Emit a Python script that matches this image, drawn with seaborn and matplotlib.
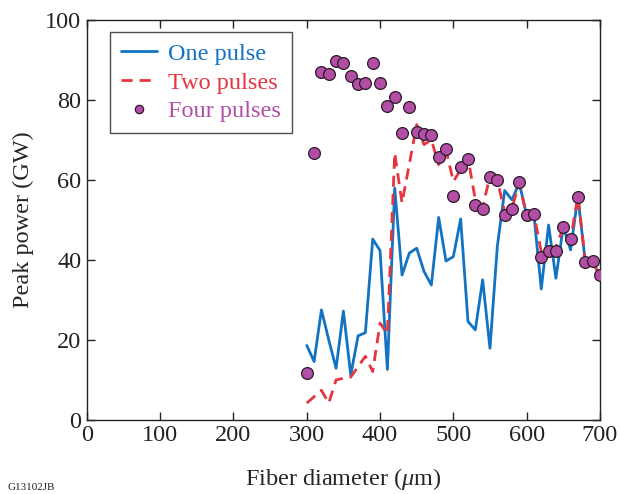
import matplotlib
matplotlib.use('Agg')
import matplotlib.pyplot as plt
from matplotlib.lines import Line2D
import seaborn as sns
import pandas as pd

# Fiber diameters (um), 300..700 in 10 um steps
diameter = [300, 310, 320, 330, 340, 350, 360, 370, 380, 390,
            400, 410, 420, 430, 440, 450, 460, 470, 480, 490,
            500, 510, 520, 530, 540, 550, 560, 570, 580, 590,
            600, 610, 620, 630, 640, 650, 660, 670, 680, 690, 700]

one_pulse = [18.6, 14.6, 27.5, 20.0, 12.9, 27.2, 11.2, 21.0, 21.8, 45.2,
             42.3, 12.6, 57.9, 36.2, 41.7, 42.9, 37.1, 33.7, 50.6, 39.7,
             40.8, 50.2, 24.6, 22.5, 35.0, 17.9, 43.3, 57.3, 55.0, 59.2,
             51.2, 51.2, 32.7, 48.7, 35.4, 48.3, 42.5, 55.8, 39.6, 39.6, 36.0]

two_pulses = [4.2, 5.8, 7.4, 4.2, 10.0, 10.4, 10.7, 13.3, 15.9, 12.1,
              24.2, 21.5, 66.7, 54.2, 64.0, 73.8, 68.8, 70.0, 63.8, 67.5,
              59.6, 62.5, 65.5, 55.0, 53.3, 60.8, 60.0, 52.0, 53.0, 59.2,
              51.2, 51.5, 42.0, 42.5, 43.3, 48.0, 45.0, 56.0, 40.0, 39.6, 36.0]

four_pulses = [11.6, 66.8, 87.0, 86.4, 89.8, 89.3, 86.0, 84.0, 84.2, 89.2,
               84.2, 78.4, 80.6, 71.7, 78.2, 72.0, 71.5, 71.3, 65.7, 67.7,
               56.0, 63.2, 65.2, 53.7, 52.8, 60.7, 60.0, 51.2, 52.8, 59.5,
               51.2, 51.4, 40.7, 42.2, 42.2, 48.1, 45.2, 55.7, 39.4, 39.7, 36.2]

labels = ['One pulse', 'Two pulses', 'Four pulses']
blue = '#1273c2'
red = '#e7353f'
purple = '#b24ea3'

df = pd.DataFrame({'diameter': diameter, 'one': one_pulse,
                   'two': two_pulses, 'four': four_pulses})

sns.set_style('ticks')
plt.rcParams['font.family'] = ['Liberation Serif', 'DejaVu Serif']
plt.rcParams['mathtext.fontset'] = 'custom'
plt.rcParams['mathtext.it'] = 'Liberation Serif:italic'
plt.rcParams['mathtext.rm'] = 'Liberation Serif'

fig = plt.figure(figsize=(6.21, 4.94), dpi=100)
ax = fig.add_axes([0.140, 0.150, 0.826, 0.810])

sns.lineplot(data=df, x='diameter', y='one', ax=ax, color=blue, linewidth=2.0)
sns.lineplot(data=df, x='diameter', y='two', ax=ax, color=red, linewidth=2.0,
             dashes=False)
ax.lines[-1].set_dashes([4, 2.5])
sns.scatterplot(data=df, x='diameter', y='four', ax=ax, color=purple, s=72,
                edgecolor='#2a1a2a', linewidth=0.9, zorder=5)

ax.set_xlim(0, 700)
ax.set_ylim(0, 100)
ax.set_xticks(range(0, 701, 100))
ax.set_yticks(range(0, 101, 20))
ax.tick_params(direction='in', length=6, width=1, top=True, right=True,
               labelsize=17.5, colors='#222222', pad=4)
for s in ax.spines.values():
    s.set_linewidth(1.0)
    s.set_color('#222222')
    s.set_visible(True)

ax.set_xlabel(r'Fiber diameter ($\mathit{\mu}$m)', fontsize=17.5, labelpad=14)
ax.set_ylabel('Peak power (GW)', fontsize=17.5, labelpad=8)

handles = [Line2D([], [], color=blue, linewidth=2.0),
           Line2D([], [], color=red, linewidth=2.0, dashes=[4, 2.5]),
           Line2D([], [], color=purple, marker='o', linestyle='none',
                  markersize=6, markeredgecolor='#2a1a2a', markeredgewidth=0.9)]
leg = ax.legend(handles, labels, loc='upper left',
                bbox_to_anchor=(0.045, 0.97), borderaxespad=0,
                fontsize=17.5, frameon=True, fancybox=False,
                handlelength=1.5, handletextpad=0.45, labelspacing=0.28,
                borderpad=0.45)
leg.get_frame().set_edgecolor('#222222')
leg.get_frame().set_linewidth(1.0)
for txt, c in zip(leg.get_texts(), [blue, red, purple]):
    txt.set_color(c)

fig.text(0.012, 0.004, 'G13102JB', fontsize=8, va='bottom', color='#222222')

fig.savefig('out.png', dpi=100)
